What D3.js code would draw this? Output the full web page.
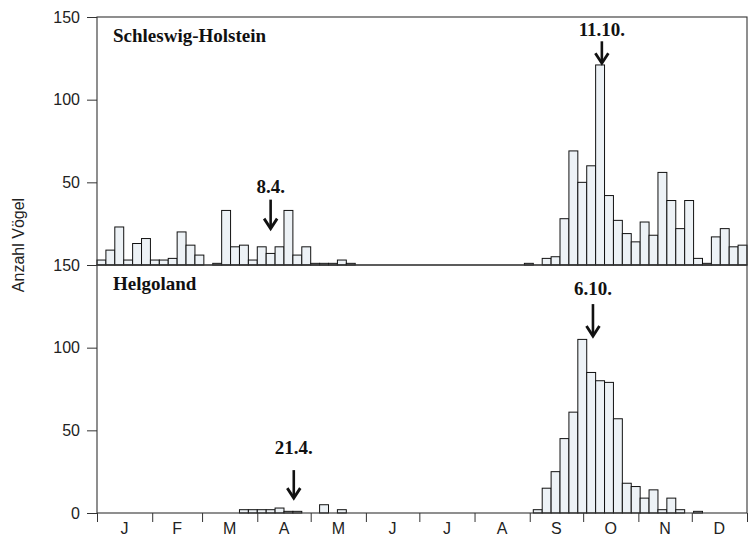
<!DOCTYPE html>
<html><head><meta charset="utf-8">
<script src="https://cdn.jsdelivr.net/npm/d3@7/dist/d3.min.js"></script>
<style>body{margin:0;background:#fff}svg{display:block}</style>
</head><body>
<script>
// Pentad counts (73 five-day periods)
const shValues = [3,9,23,3,13,16,3,3,4,20,12,6,0,1,33,11,12,3,11,7,11,33,6,11,1,1,1,3,1,
  0,0,0,0,0,0,0,0,0,0,0,0,0,0,0,0,0,0,0,1,0,4,5,28,69,50,60,121,42,27,19,14,26,18,56,39,22,39,4,1,17,22,11,12];
const hgValues = [0,0,0,0,0,0,0,0,0,0,0,0,0,0,0,0,2,2,2,2,3,1,1,0,0,5,0,2,
  0,0,0,0,0,0,0,0,0,0,0,0,0,0,0,0,0,0,0,0,0,2,15,25,45,61,105,85,80,79,57,18,16,9,14,2,9,2,0,1,0,0,0,0,0];
const months = ["J","F","M","A","M","J","J","A","S","O","N","D"];
const monthStartDays = [0,31,59,90,120,151,181,212,243,273,304,334,365];
const topTicks = [150,100,50];
const bottomTicks = [150,100,50,0];
const panelNames = ["Schleswig-Holstein","Helgoland"];
const markerLabels = [["8.4.","11.10."],["21.4.","6.10."]];
const markerDays = [[97.5,283.5],[110.5,278.5]];
const markerTipValues = [[22,122],[9,107]];

const W=752,H=537;
const svg=d3.select("body").append("svg").attr("width",W).attr("height",H);
const x=d3.scaleLinear().domain([0,365]).range([97,747]);
const yTop=d3.scaleLinear().domain([0,150]).range([265,17]);
const yBot=d3.scaleLinear().domain([0,150]).range([513,265]);
const pw = x(5)-x(0);
const arrowLen=[[29,22],[28,32]];
const labelGap=[[7,5],[16,9]];

function drawPanel(vals, y, idx){
  const g=svg.append("g");
  g.selectAll("rect.bar").data(vals.map((v,i)=>({v,i})).filter(d=>d.v>0)).enter()
    .append("rect").attr("class","bar")
    .attr("x",d=>x(d.i*5)).attr("width",pw)
    .attr("y",d=>y(d.v)).attr("height",d=>y(0)-y(d.v))
    .attr("fill","#edf2f6").attr("stroke","#111").attr("stroke-width",1);
  g.append("rect").attr("x",x(0)).attr("y",y(150)).attr("width",x(365)-x(0)).attr("height",y(0)-y(150))
    .attr("fill","none").attr("stroke","#333").attr("stroke-width",1.1);
  g.append("text").attr("x",113).attr("y",y(150)+25).text(panelNames[idx])
    .attr("font-family","Liberation Serif, Times New Roman, serif").attr("font-weight","bold")
    .attr("font-size",19).attr("fill","#111");
  markerDays[idx].forEach((dday,k)=>{
    const cx=x(dday);
    const tip = y(markerTipValues[idx][k]);
    const top = tip-arrowLen[idx][k];
    g.append("text").attr("x",cx).attr("y",top-labelGap[idx][k]).attr("text-anchor","middle").text(markerLabels[idx][k])
      .attr("font-family","Liberation Serif, Times New Roman, serif").attr("font-weight","bold")
      .attr("font-size",19).attr("fill","#111");
    g.append("line").attr("x1",cx).attr("x2",cx).attr("y1",top).attr("y2",tip-2)
      .attr("stroke","#111").attr("stroke-width",2.6);
    g.append("path").attr("d",`M${cx-6.5},${tip-10} L${cx},${tip} L${cx+6.5},${tip-10}`)
      .attr("fill","none").attr("stroke","#111").attr("stroke-width",2.8);
  });
}
drawPanel(shValues,yTop,0);
drawPanel(hgValues,yBot,1);

function yAxis(y,ticks){
  const g=svg.append("g").attr("transform",`translate(${x(0)},0)`)
    .call(d3.axisLeft(y).tickValues(ticks).tickSize(10).tickPadding(7));
  g.select(".domain").remove();
  g.selectAll("line").attr("stroke","#333");
  g.selectAll("text").attr("font-family","Liberation Sans, Arial, sans-serif").attr("font-size",16).attr("fill","#222");
}
yAxis(yTop,topTicks);
yAxis(yBot,bottomTicks);

const xg=svg.append("g").attr("transform",`translate(0,${yBot(0)})`)
  .call(d3.axisBottom(x).tickValues(monthStartDays).tickSize(9).tickFormat(""));
xg.select(".domain").remove();
xg.selectAll("line").attr("stroke","#333");
svg.selectAll("text.month").data(months).enter().append("text").attr("class","month")
  .attr("x",(d,i)=>(x(monthStartDays[i])+x(monthStartDays[i+1]))/2)
  .attr("y",534).attr("text-anchor","middle").text(d=>d)
  .attr("font-family","Liberation Sans, Arial, sans-serif").attr("font-size",16).attr("fill","#222");

svg.append("text").attr("transform","translate(24,245) rotate(-90)").attr("text-anchor","middle")
  .text("Anzahl Vögel").attr("font-family","Liberation Sans, Arial, sans-serif").attr("font-size",16).attr("fill","#222");
</script>
</body></html>
